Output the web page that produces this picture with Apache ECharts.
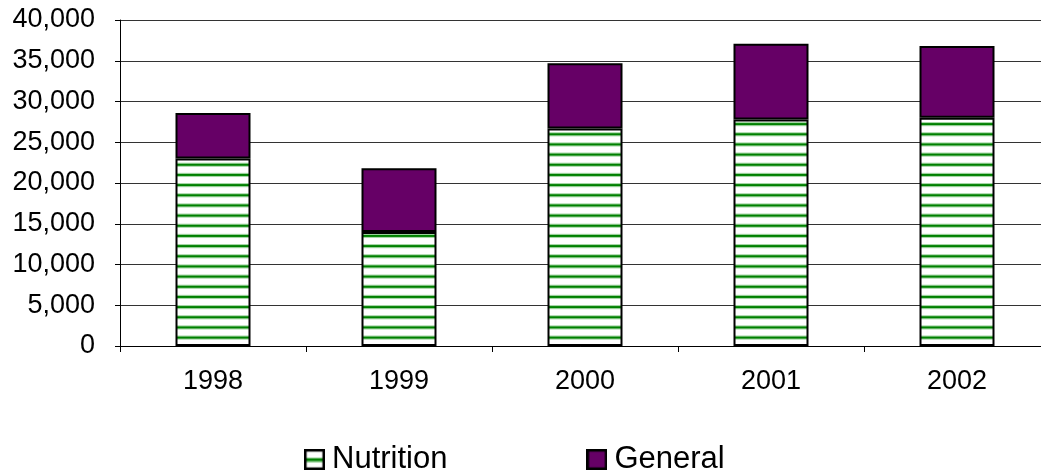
<!DOCTYPE html>
<html>
<head>
<meta charset="utf-8">
<script src="https://cdn.jsdelivr.net/npm/echarts@6/dist/echarts.min.js"></script>
<style>
html,body{margin:0;padding:0;background:#fff;}
#chart{width:1041px;height:471px;}
</style>
</head>
<body>
<div id="chart"></div>
<script>
const years = ['1998', '1999', '2000', '2001', '2002'];
const nutrition = [23000, 14000, 26700, 27800, 28000];
const general = [5600, 7800, 8000, 9300, 8800];
const yTicks = [0, 5000, 10000, 15000, 20000, 25000, 30000, 35000, 40000];

function makeStripe() {
  const c = document.createElement('canvas');
  c.width = 4; c.height = 61;
  const g = c.getContext('2d');
  g.fillStyle = '#ffffff';
  g.fillRect(0, 0, 4, 61);
  for (let k = 0; k < 6; k++) {
    const y = k * 61 / 6;
    g.fillStyle = 'rgba(0,140,0,0.35)';
    g.fillRect(0, y, 4, 4.2);
    g.fillStyle = 'rgb(0,128,0)';
    g.fillRect(0, y + 1.1, 4, 2);
  }
  return c;
}
function makeLegendIcon() {
  const c = document.createElement('canvas');
  c.width = 20; c.height = 20;
  const g = c.getContext('2d');
  g.fillStyle = '#fff';
  g.fillRect(0, 0, 20, 20);
  g.fillStyle = 'rgba(0,140,0,0.35)';
  g.fillRect(2, 8, 16, 5);
  g.fillStyle = 'rgb(0,128,0)';
  g.fillRect(2, 9, 16, 2.5);
  g.strokeStyle = '#000';
  g.lineWidth = 2.5;
  g.strokeRect(1.25, 1.25, 17.5, 17.5);
  return c.toDataURL();
}
function makeLegendIconSolid() {
  const c = document.createElement('canvas');
  c.width = 20; c.height = 20;
  const g = c.getContext('2d');
  g.fillStyle = '#660066';
  g.fillRect(0, 0, 20, 20);
  g.strokeStyle = '#000';
  g.lineWidth = 2.5;
  g.strokeRect(1.25, 1.25, 17.5, 17.5);
  return c.toDataURL();
}
const stripe = makeStripe();
const font = 'Liberation Sans, Arial, sans-serif';

const chart = echarts.init(document.getElementById('chart'));
chart.setOption({
  animation: false,
  backgroundColor: '#fff',
  grid: { left: 120, top: 20, width: 930, height: 326, containLabel: false, outerBoundsMode: 'none' },
  legend: {
    data: [
      { name: 'Nutrition', icon: 'image://' + makeLegendIcon() },
      { name: 'General', icon: 'image://' + makeLegendIconSolid() }
    ],
    left: 299, top: 439,
    itemWidth: 21, itemHeight: 21, itemGap: 139,
    textStyle: { fontSize: 31, fontFamily: font, color: '#000', padding: [0, 0, 0, 2] }
  },
  xAxis: {
    type: 'category',
    data: years,
    axisLine: { lineStyle: { color: '#000', width: 1 } },
    axisTick: { show: true, length: 6, lineStyle: { color: '#000' } },
    axisLabel: { fontSize: 27, fontFamily: font, color: '#000', margin: 22 }
  },
  yAxis: {
    type: 'value',
    min: yTicks[0], max: yTicks[yTicks.length - 1], interval: yTicks[1] - yTicks[0],
    axisLine: { show: true, lineStyle: { color: '#000', width: 1 } },
    axisTick: { show: true, length: 5, lineStyle: { color: '#000' } },
    splitLine: { show: true, lineStyle: { color: '#333', width: 1 } },
    axisLabel: {
      fontSize: 27, fontFamily: font, color: '#000', margin: 25,
      formatter: v => v.toLocaleString('en-US')
    }
  },
  series: [
    {
      name: 'Nutrition', type: 'bar', stack: 'total', data: nutrition, barWidth: 75,
      itemStyle: { color: { image: stripe, repeat: 'repeat' }, borderColor: '#000', borderWidth: 2 }
    },
    {
      name: 'General', type: 'bar', stack: 'total', data: general, barWidth: 75,
      itemStyle: { color: '#660066', borderColor: '#000', borderWidth: 2 }
    }
  ]
});
</script>
</body>
</html>
